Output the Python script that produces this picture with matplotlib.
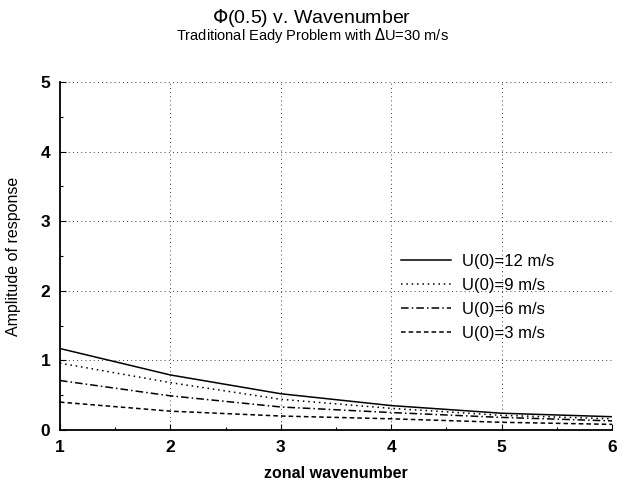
import matplotlib
matplotlib.use("Agg")
import matplotlib.pyplot as plt
from matplotlib.ticker import MultipleLocator

plt.rcParams["font.family"] = ["Liberation Sans", "DejaVu Sans"]

wavenumber = [1, 2, 3, 4, 5, 6]
amp_u12 = [1.17, 0.79, 0.52, 0.35, 0.24, 0.19]
amp_u9 = [0.96, 0.68, 0.44, 0.31, 0.21, 0.16]
amp_u6 = [0.71, 0.49, 0.33, 0.25, 0.18, 0.13]
amp_u3 = [0.40, 0.27, 0.20, 0.16, 0.11, 0.08]
labels = ["U(0)=12 m/s", "U(0)=9 m/s", "U(0)=6 m/s", "U(0)=3 m/s"]

fig = plt.figure(figsize=(6.24, 4.82), dpi=100)
ax = fig.add_axes([0.096, 0.108, 0.885, 0.722])

ax.plot(wavenumber, amp_u12, color="black", lw=1.1, ls="-", label=labels[0])
ax.plot(wavenumber, amp_u9, color="black", lw=1.1, ls=(0, (1, 2.5)), label=labels[1])
ax.plot(wavenumber, amp_u6, color="black", lw=1.1, ls=(0, (5, 2, 1, 2)), label=labels[2])
ax.plot(wavenumber, amp_u3, color="black", lw=1.1, ls=(0, (3, 2)), label=labels[3])

ax.set_xlim(1, 6)
ax.set_ylim(0, 5)
ax.xaxis.set_major_locator(MultipleLocator(1))
ax.yaxis.set_major_locator(MultipleLocator(1))
ax.xaxis.set_minor_locator(MultipleLocator(0.5))
ax.yaxis.set_minor_locator(MultipleLocator(0.5))
ax.tick_params(which="both", direction="in", length=4, width=0.8)
ax.tick_params(which="minor", length=2.5)
ax.tick_params(labelsize=12.5, pad=7)
for lbl in ax.get_xticklabels() + ax.get_yticklabels():
    lbl.set_fontweight("bold")

ax.grid(True, color="black", lw=0.6, ls=(0, (1, 4)))
ax.spines["top"].set_visible(False)
ax.spines["right"].set_visible(False)
ax.spines["left"].set_linewidth(1.3)
ax.spines["bottom"].set_linewidth(1.3)

ax.set_xlabel("zonal wavenumber", fontsize=11.5, fontweight="bold", labelpad=8)
ax.set_ylabel("Amplitude of response", fontsize=11.5, labelpad=14)

fig.text(0.5, 0.953, r"$\Phi$(0.5) v. Wavenumber", ha="center", fontsize=14)
fig.text(0.5, 0.916, r"Traditional Eady Problem with $\Delta$U=30 m/s", ha="center", fontsize=10.5)

ax.legend(loc="upper left", bbox_to_anchor=(0.59, 0.55), frameon=False, fontsize=12,
          handlelength=3.0, handletextpad=0.7, labelspacing=0.55)

plt.savefig("out.png", dpi=100)
